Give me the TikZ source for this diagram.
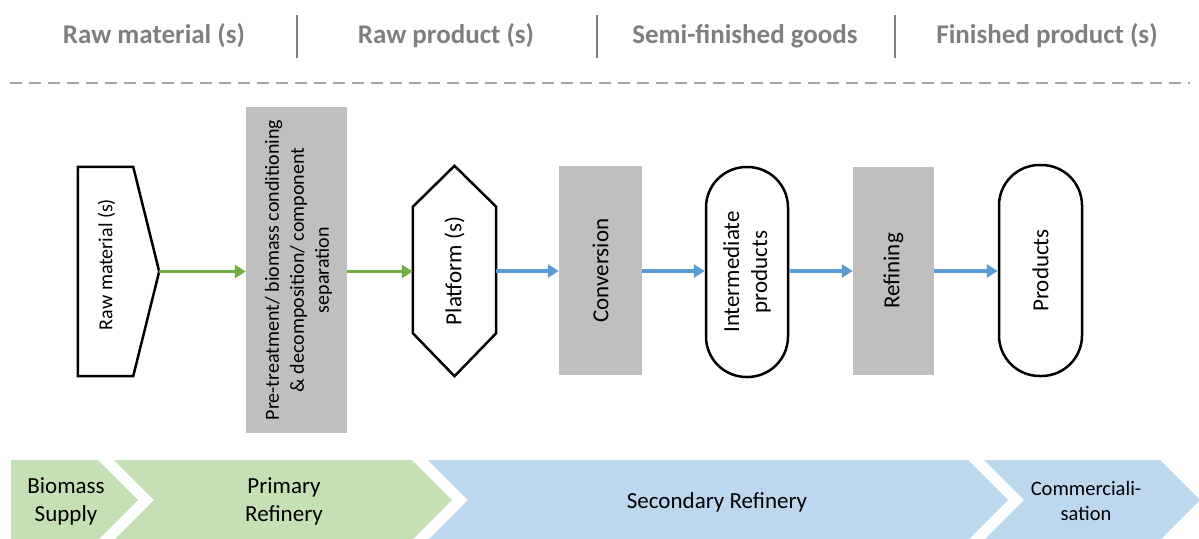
\documentclass[tikz,border=0pt]{standalone}
\usepackage{fontspec}
\setmainfont{Carlito}
\usetikzlibrary{arrows.meta,calc}

\definecolor{hdrgray}{HTML}{7F7F7F}
\definecolor{dashgray}{HTML}{A5A5A5}
\definecolor{procgray}{HTML}{BFBFBF}
\definecolor{flowgreen}{HTML}{70AD47}
\definecolor{flowblue}{HTML}{5B9BD5}
\definecolor{chevgreen}{HTML}{C5E0B4}
\definecolor{chevblue}{HTML}{BDD7EE}

\tikzset{
  hdr/.style={font=\fontsize{27}{32}\selectfont\bfseries, text=hdrgray, inner sep=0pt},
  sepline/.style={draw=hdrgray, line width=2pt},
  stageline/.style={draw=dashgray, line width=2.6pt, dash pattern=on 12pt off 7pt},
  shapebox/.style={draw=none, inner sep=0pt, rectangle},
  outline/.style={draw=black, line width=2.5pt, line join=miter, fill=white},
  procbox/.style={fill=procgray, draw=none, inner sep=0pt, rectangle},
  pill/.style={draw=black, line width=2.5pt, rounded corners=40.5pt, inner sep=0pt, fill=white, rectangle},
  vtext/.style={rotate=90, align=center, font=\fontsize{23}{28}\selectfont, inner sep=0pt},
  smalltext/.style={font=\fontsize{20}{25}\selectfont},
  flowG/.style={draw=flowgreen, line width=3.2pt, -{Triangle[length=11pt,width=13pt]}},
  flowB/.style={draw=flowblue, line width=3.2pt, -{Triangle[length=11pt,width=13pt]}},
  chevG/.style={fill=chevgreen},
  chevB/.style={fill=chevblue},
  chevtext/.style={font=\fontsize{23}{28}\selectfont, align=center, inner sep=0pt},
}

\begin{document}
\begin{tikzpicture}[x=1pt,y=-1pt]
\useasboundingbox (0,0) rectangle (1199,538);

% ---- stage headings ----
\node[hdr] (hRaw)  at (154,36)  {Raw material (s)};
\node[hdr] (hProd) at (446,36)  {Raw product (s)};
\node[hdr] (hSemi) at (745,36)  {Semi-finished goods};
\node[hdr] (hFin)  at (1047,36) {Finished product (s)};
\draw[sepline] (297,15) -- (297,58);
\draw[sepline] (597,15) -- (597,58);
\draw[sepline] (895,15) -- (895,58);
\draw[stageline] (10,83) -- (1190,83);

% ---- process chain ----
% raw material: pentagon pointing right
\node[shapebox, minimum width=81, minimum height=209] (raw) at (118.5,271.5) {};
\draw[outline] (raw.north west) -- ($(raw.north east)+(-26,0)$) -- (raw.east)
  -- ($(raw.south east)+(-26,0)$) -- (raw.south west) -- cycle;
\node[vtext, smalltext] (rawtxt) at ($(raw.center)+(-12,-7)$) {Raw material (s)};

% pre-treatment
\node[procbox, minimum width=101, minimum height=326] (pre) at (296.5,270) {};
\node[vtext, smalltext] (pretxt) at ($(pre.center)+(2,0)$)
  {Pre-treatment/ biomass conditioning\\ \& decomposition/ component\\ separation};

% platform: elongated hexagon
\node[shapebox, minimum width=83, minimum height=210] (plat) at (454.5,271) {};
\draw[outline] (plat.north) -- ($(plat.north east)+(0,41)$) -- ($(plat.south east)+(0,-43)$)
  -- (plat.south) -- ($(plat.south west)+(0,-43)$) -- ($(plat.north west)+(0,41)$) -- cycle;
\node[vtext] (plattxt) at (plat.center) {Platform (s)};

% conversion
\node[procbox, minimum width=83, minimum height=209] (conv) at (600.5,270.5) {};
\node[vtext] (convtxt) at (conv.center) {Conversion};

% intermediate products
\node[pill, minimum width=82, minimum height=210] (inter) at (747,272) {};
\node[vtext] (intertxt) at (inter.center) {Intermediate\\products};

% refining
\node[procbox, minimum width=81, minimum height=208] (refi) at (893.5,271) {};
\node[vtext] (refitxt) at (refi.center) {Refining};

% products
\node[pill, minimum width=83, minimum height=211] (prod) at (1040.5,270.5) {};
\node[vtext] (prodtxt) at (prod.center) {Products};

% ---- connectors ----
\draw[flowG] (raw.east) -- (raw.east -| pre.west);
\draw[flowG] (pre.east |- raw.east) -- (plat.west |- raw.east);
\draw[flowB] (plat.east) -- (plat.east -| conv.west);
\draw[flowB] (conv.east |- plat.east) -- (inter.west |- plat.east);
\draw[flowB] (inter.east |- plat.east) -- (refi.west |- plat.east);
\draw[flowB] (refi.east |- plat.east) -- (prod.west |- plat.east);

% ---- value-chain chevrons ----
\fill[chevG] (11,460) -- (98,460) -- (138,500) -- (98,540) -- (11,540) -- cycle;
\fill[chevG] (114,460) -- (412,460) -- (452,500) -- (412,540) -- (114,540) -- (154,500) -- cycle;
\fill[chevB] (428,460) -- (968,460) -- (1008,500) -- (968,540) -- (428,540) -- (468,500) -- cycle;
\fill[chevB] (984,460) -- (1160,460) -- (1200,500) -- (1160,540) -- (984,540) -- (1024,500) -- cycle;

\node[chevtext] (cSupply) at (66,501)  {Biomass\\Supply};
\node[chevtext] (cPrim)   at (284,501) {Primary\\Refinery};
\node[chevtext] (cSec)    at (717,502) {Secondary Refinery};
\node[chevtext, font=\fontsize{20.5}{25}\selectfont] (cComm) at (1086,501) {Commerciali-\\sation};
\end{tikzpicture}
\end{document}
